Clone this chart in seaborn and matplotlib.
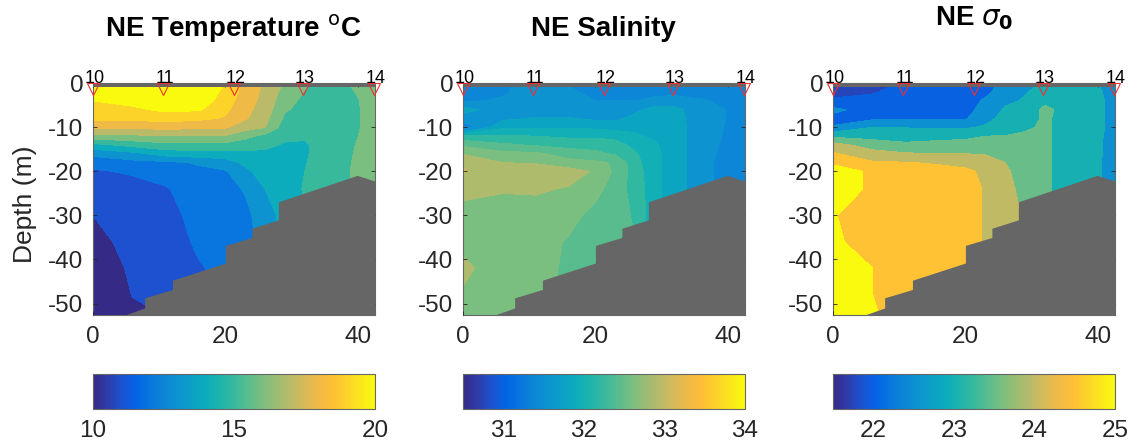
import numpy as np
import matplotlib
matplotlib.use('Agg')
import matplotlib.pyplot as plt
from matplotlib.cm import ScalarMappable
from matplotlib.colors import Normalize
import seaborn as sns

# grid the sections were read on
x_nodes = [0, 6, 11, 16, 20, 23, 26, 29, 32, 36, 40, 42.6]
depth_nodes = [0, -2, -4, -6, -8, -10, -12, -14, -16, -18, -20, -24, -30, -36, -42, -48, -53]

# one row per x node, one value per depth node
temp_by_x = [
    [20.8, 20.4, 20.0, 19.6, 19.2, 18.3, 16.6, 14.7, 13.3, 12.3, 11.9, 11.5, 11.0, 10.7, 10.4, 10.2, 10.1],
    [20.9, 20.6, 20.3, 19.8, 19.2, 18.2, 16.8, 15.3, 13.7, 12.7, 12.1, 11.7, 11.5, 11.3, 11.15, 11.03, 10.8],
    [21.0, 20.9, 20.6, 20.2, 19.4, 18.3, 16.9, 15.7, 14.4, 12.8, 12.5, 11.9, 11.6, 11.4, 11.3, 11.2, 11.0],
    [21.0, 20.9, 20.6, 20.1, 19.2, 18.2, 16.9, 15.7, 14.6, 13.1, 12.8, 12.6, 12.4, 12.2, 11.9, 11.7, 11.5],
    [19.95, 19.7, 19.5, 19.2, 18.9, 18.1, 16.9, 15.7, 14.5, 13.6, 12.9, 12.6, 12.5, 12.4, 12.3, 12.2, 12.1],
    [18.7, 18.6, 18.4, 18.3, 18.1, 17.4, 16.3, 15.4, 14.8, 14.2, 13.8, 13.1, 12.7, 12.6, 12.5, 12.4, 12.3],
    [17.8, 17.75, 17.7, 17.5, 17.3, 17.0, 15.7, 15.2, 14.8, 14.6, 14.4, 14.0, 13.6, 13.4, 13.3, 13.2, 13.1],
    [16.9, 16.6, 16.3, 16.1, 15.8, 15.5, 15.2, 14.9, 14.7, 14.6, 14.5, 14.4, 14.3, 14.3, 14.2, 14.2, 14.2],
    [16.1, 15.95, 15.8, 15.7, 15.6, 15.4, 15.1, 14.9, 14.9, 14.95, 15.0, 15.1, 15.1, 15.1, 15.1, 15.1, 15.1],
    [15.7, 15.6, 15.55, 15.5, 15.5, 15.5, 15.5, 15.5, 15.5, 15.5, 15.5, 15.5, 15.5, 15.5, 15.5, 15.5, 15.5],
    [16.15, 16.05, 15.95, 15.9, 15.9, 15.9, 15.98, 16.05, 16.1, 16.15, 16.2, 16.2, 16.2, 16.2, 16.2, 16.2, 16.2],
    [16.6, 16.5, 16.5, 16.5, 16.5, 16.5, 16.5, 16.5, 16.5, 16.5, 16.5, 16.5, 16.5, 16.5, 16.5, 16.5, 16.5],
]

salt_by_x = [
    [31.4, 31.45, 31.48, 31.85, 31.6, 31.3, 32.3, 32.7, 32.98, 33.22, 33.27, 33.08, 32.9, 32.93, 33.06, 32.97, 32.9],
    [31.47, 31.48, 31.52, 31.6, 31.7, 31.95, 32.28, 32.55, 32.82, 33.0, 33.08, 33.02, 32.9, 32.85, 32.85, 32.85, 32.85],
    [31.56, 31.58, 31.6, 31.65, 31.77, 31.98, 32.25, 32.47, 32.8, 32.98, 33.12, 33.03, 32.9, 32.88, 32.85, 32.83, 32.8],
    [31.47, 31.55, 31.6, 31.65, 31.77, 31.98, 32.2, 32.42, 32.62, 32.85, 33.1, 32.98, 32.85, 32.72, 32.7, 32.7, 32.7],
    [31.35, 31.42, 31.5, 31.6, 31.7, 31.95, 32.2, 32.42, 32.55, 32.8, 32.97, 32.85, 32.65, 32.65, 32.65, 32.65, 32.65],
    [31.35, 31.42, 31.5, 31.58, 31.7, 31.9, 32.17, 32.35, 32.47, 32.72, 32.7, 32.6, 32.6, 32.6, 32.6, 32.6, 32.6],
    [31.35, 31.42, 31.5, 31.7, 31.82, 31.95, 32.03, 32.17, 32.28, 32.34, 32.38, 32.42, 32.47, 32.5, 32.5, 32.5, 32.5],
    [31.35, 31.42, 31.58, 31.85, 31.9, 31.93, 31.96, 32.03, 32.06, 32.06, 32.06, 32.06, 32.06, 32.06, 32.06, 32.06, 32.06],
    [31.35, 31.42, 31.62, 31.82, 31.85, 31.87, 31.87, 31.87, 31.87, 31.87, 31.87, 31.87, 31.87, 31.87, 31.87, 31.87, 31.87],
    [31.38, 31.43, 31.52, 31.6, 31.6, 31.6, 31.6, 31.6, 31.6, 31.6, 31.6, 31.6, 31.6, 31.6, 31.6, 31.6, 31.6],
    [31.35, 31.4, 31.45, 31.49, 31.49, 31.48, 31.47, 31.45, 31.42, 31.38, 31.38, 31.38, 31.38, 31.38, 31.38, 31.38, 31.38],
    [31.33, 31.33, 31.33, 31.33, 31.33, 31.33, 31.33, 31.33, 31.33, 31.33, 31.33, 31.33, 31.33, 31.33, 31.33, 31.33, 31.33],
]

sigma_by_x = [
    [21.8, 21.9, 22.05, 22.65, 22.3, 22.55, 23.4, 24.2, 24.55, 24.95, 25.15, 25.3, 25.03, 25.08, 25.4, 25.4, 25.4],
    [21.85, 21.98, 22.07, 22.2, 22.42, 23.0, 23.33, 23.75, 24.2, 24.55, 24.95, 24.9, 24.75, 24.8, 25.0, 25.0, 25.05],
    [22.05, 22.1, 22.15, 22.25, 22.45, 22.98, 23.28, 23.6, 24.05, 24.52, 24.7, 24.8, 24.8, 24.8, 24.8, 24.8, 24.8],
    [22.05, 22.1, 22.15, 22.25, 22.45, 22.95, 23.3, 23.7, 24.0, 24.45, 24.65, 24.75, 24.75, 24.75, 24.75, 24.75, 24.75],
    [22.1, 22.15, 22.2, 22.3, 22.45, 22.95, 23.38, 23.7, 24.0, 24.35, 24.6, 24.7, 24.7, 24.7, 24.7, 24.7, 24.7],
    [22.25, 22.35, 22.6, 22.72, 22.88, 23.05, 23.5, 23.8, 23.98, 24.15, 24.4, 24.46, 24.46, 24.46, 24.46, 24.46, 24.46],
    [22.65, 22.8, 22.92, 23.05, 23.12, 23.2, 23.52, 23.7, 23.95, 24.0, 24.08, 24.15, 24.2, 24.2, 24.2, 24.2, 24.2],
    [22.88, 22.97, 23.04, 23.1, 23.2, 23.4, 23.6, 23.7, 23.7, 23.75, 23.78, 23.85, 23.95, 23.95, 23.95, 23.95, 23.95],
    [23.05, 23.15, 23.35, 23.65, 23.6, 23.6, 23.6, 23.6, 23.6, 23.6, 23.6, 23.6, 23.6, 23.6, 23.6, 23.6, 23.6],
    [23.15, 23.2, 23.2, 23.2, 23.2, 23.2, 23.2, 23.2, 23.2, 23.2, 23.2, 23.2, 23.2, 23.2, 23.2, 23.2, 23.2],
    [23.0, 23.05, 23.07, 23.07, 23.07, 23.07, 23.06, 23.05, 23.05, 23.03, 23.03, 23.03, 23.03, 23.03, 23.03, 23.03, 23.03],
    [22.85, 22.85, 22.9, 22.9, 22.9, 22.9, 22.87, 22.85, 22.85, 22.9, 22.9, 22.9, 22.9, 22.9, 22.9, 22.9, 22.9],
]

# contour levels, color limits, colorbar ticks
temp_levels = [10, 11, 12, 13, 14, 15, 16, 17, 18, 19, 20]
salt_levels = [31.25, 31.5, 31.75, 32, 32.25, 32.5, 32.75, 33, 33.25]
sigma_levels = [21.75, 22, 22.5, 23, 23.5, 24, 24.5, 25]
temp_lim = (10, 20)
salt_lim = (30.5, 34)
sigma_lim = (21.5, 25)
temp_ticks = [10, 15, 20]
salt_ticks = [31, 32, 33, 34]
sigma_ticks = [22, 23, 24, 25]

# salinity bands sit a little off the colorbar, these are the values their colors match
salt_band_colors = [31.375, 31.55, 31.8, 31.97, 32.2, 32.42, 32.6, 32.88, 33.09]

# bottom profile
bottom_x = [0, 4.8, 7.8, 7.8, 12, 12, 20, 20, 24, 24, 28, 28, 39.9, 42.6]
bottom_depth = [-53, -52.6, -51, -48.7, -46.8, -44.7, -40.8, -36.8, -35, -32.9, -31, -26.9, -20.9, -22.2]

# stations
station_x = [0, 10.6, 21.3, 31.7, 42.5]
station_names = ['10', '11', '12', '13', '14']
station_marker_depth = -1.2

sns.set_theme(style='ticks')
plt.rcParams['font.family'] = ['Liberation Sans', 'DejaVu Sans']
plt.rcParams['axes.unicode_minus'] = False
plt.rcParams['mathtext.fontset'] = 'dejavusans'

anchors = [(54, 42, 135), (45, 60, 170), (28, 82, 208), (2, 100, 228), (8, 118, 222),
           (12, 134, 214), (12, 148, 208), (12, 160, 198), (12, 172, 188), (30, 180, 172),
           (55, 185, 157), (90, 188, 142), (122, 190, 128), (155, 188, 115), (185, 186, 105),
           (215, 186, 88), (240, 186, 70), (255, 190, 55), (252, 210, 40), (251, 230, 28),
           (250, 250, 15)]
parula_like = sns.blend_palette([tuple(c / 255 for c in a) for a in anchors], as_cmap=True)

W, H = 1138, 444
GREY = '#666666'
TEXT = '#262626'


def px_axes(fig, left, top, right, bottom):
    return fig.add_axes([left / W, 1 - bottom / H, (right - left) / W, (bottom - top) / H])


def section(fig, left, field_by_x, levels, lim, ticks, band_colors=None):
    ax = px_axes(fig, left, 83.3, left + 282, 315)
    norm = Normalize(*lim)
    field = np.array(field_by_x).T
    colors = [parula_like(norm(v)) for v in (band_colors or levels)]
    ax.contourf(x_nodes, depth_nodes, field, levels=levels + [99], colors=colors)
    ax.fill_between(bottom_x, bottom_depth, -60, color=GREY, lw=0, zorder=3)
    ax.axhspan(-0.75, 0, color=GREY, lw=0, zorder=3)
    ax.plot(station_x, [station_marker_depth] * len(station_x), 'v', ms=9, mfc='none',
            mec='#f03030', mew=0.8, clip_on=False, zorder=5)
    for sx, name in zip(station_x, station_names):
        ax.text(sx + 0.2, 1.0, name, ha='center', va='center', fontsize=13, color='black', zorder=6)
    ax.set_xlim(0, 42.6)
    ax.set_ylim(-52.6, 0)
    ax.set_xticks([0, 20, 40])
    ax.set_yticks([0, -10, -20, -30, -40, -50])
    ax.tick_params(direction='in', length=3, width=0.6, color=TEXT, top=True, right=True,
                   labelsize=17.5, labelcolor=TEXT, pad=7)
    ax.tick_params(axis='x', pad=8)
    for s in ax.spines.values():
        s.set_color(GREY)
        s.set_linewidth(0.8)
    ax.set_axisbelow(False)

    cax = px_axes(fig, left, 374, left + 282, 409)
    cb = fig.colorbar(ScalarMappable(norm=norm, cmap=parula_like), cax=cax, orientation='horizontal')
    cb.set_ticks(ticks)
    cb.ax.tick_params(direction='in', length=2, width=0.6, color=TEXT, labelsize=17.5,
                      labelcolor=TEXT, pad=8)
    cb.outline.set_edgecolor(GREY)
    cb.outline.set_linewidth(0.8)
    return ax


fig = plt.figure(figsize=(W / 100, H / 100), dpi=100)
ax1 = section(fig, 93, temp_by_x, temp_levels, temp_lim, temp_ticks)
ax2 = section(fig, 463, salt_by_x, salt_levels, salt_lim, salt_ticks, band_colors=salt_band_colors)
ax3 = section(fig, 833, sigma_by_x, sigma_levels, sigma_lim, sigma_ticks)

fig.text(25 / W, 1 - 204 / H, 'Depth (m)', rotation=90, ha='center', va='center',
         fontsize=19, color=TEXT)

fig.text(233 / W, 1 - 29 / H, 'NE Temperature $^{\\mathrm{o}}$C', ha='center', va='center',
         fontsize=20, fontweight='bold', color='black')
fig.text(603 / W, 1 - 29 / H, 'NE Salinity', ha='center', va='center',
         fontsize=20, fontweight='bold', color='black')
fig.text(974 / W, 1 - 18 / H, 'NE $\\sigma_{\\mathbf{0}}$', ha='center', va='center',
         fontsize=20, fontweight='bold', color='black')

fig.savefig('out.png', dpi=100, facecolor='white')
